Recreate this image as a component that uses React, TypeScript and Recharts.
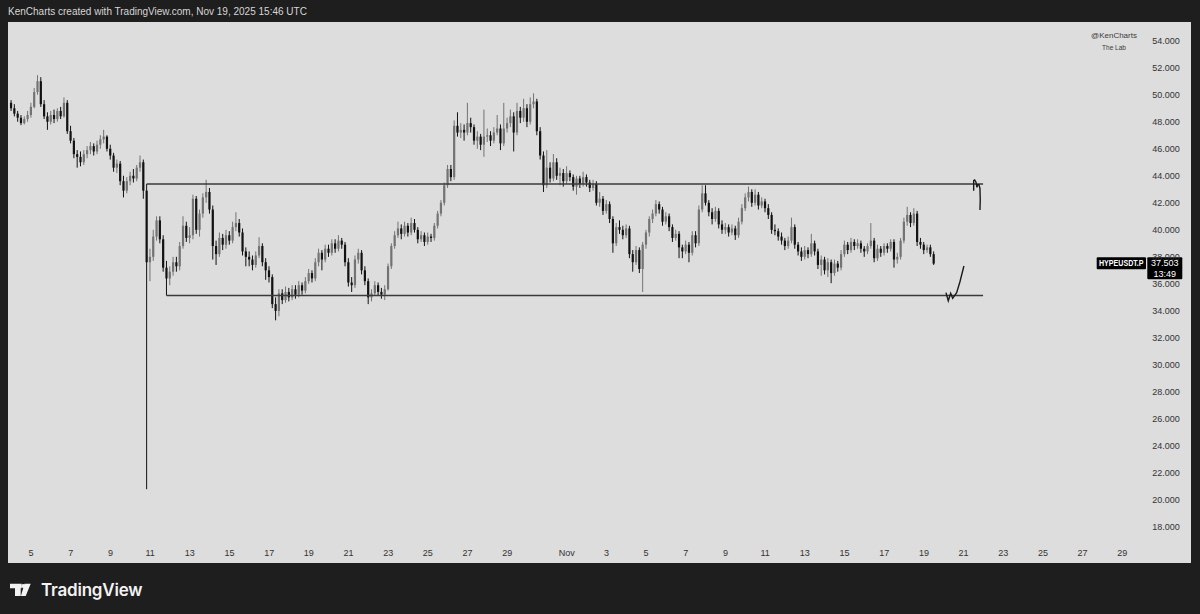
import { Bar, ComposedChart, Line, ReferenceDot, XAxis, YAxis } from 'recharts'

// 4h HYPEUSDT.P candles, Oct 4 00:00 -> Nov 19 12:00 (one line = one day)
const opens = [
  49.4, 49.0, 48.6, 48.3, 47.9, 48.2,
  48.5, 49.1, 50.2, 51.0, 49.3, 48.4,
  48.0, 48.5, 48.2, 48.8, 48.4, 49.4,
  47.3, 46.6, 45.6, 45.4, 45.0, 45.6,
  45.9, 46.2, 45.8, 46.3, 46.7, 46.9,
  46.0, 45.5, 44.6, 44.9, 43.6, 42.9,
  43.6, 44.0, 43.8, 44.6, 45.0, 42.9,
  37.6, 38.0, 39.5, 40.7, 39.3, 37.2,
  36.4, 36.9, 37.6, 37.3, 38.8, 40.3,
  39.4, 39.6, 42.3, 40.0, 41.2, 42.4,
  42.8, 41.5, 38.8, 38.2, 39.4, 38.9,
  39.6, 39.2, 40.2, 40.5, 39.8, 38.4,
  38.0, 37.8, 37.4, 38.1, 38.8, 37.6,
  37.0, 36.5, 34.5, 34.0, 35.3, 34.8,
  35.4, 35.0, 35.6, 35.2, 35.9, 35.5,
  36.2, 36.8, 36.4, 37.6, 38.3, 37.8,
  38.6, 38.3, 39.0, 38.6, 39.2, 38.9,
  37.6, 36.1, 35.9, 37.8, 38.3, 37.0,
  36.2, 35.0, 35.3, 35.9, 35.4, 35.2,
  35.6, 37.3, 38.8, 39.6, 40.1, 39.7,
  40.3, 39.8, 40.5, 40.0, 39.3, 39.6,
  39.1, 39.5, 39.4, 40.3, 41.2, 42.0,
  43.3, 44.5, 43.9, 47.7, 47.2, 47.4,
  47.2, 47.9, 47.6, 46.6, 46.9, 46.3,
  46.9, 47.0, 46.6, 47.2, 47.5, 46.4,
  47.5, 47.9, 48.4, 47.2, 48.8, 48.3,
  49.0, 48.0, 49.3, 49.5, 47.3, 45.5,
  43.3, 44.6, 43.8, 45.0, 44.0, 44.2,
  43.6, 44.2, 43.9, 43.2, 43.8, 43.4,
  43.9, 43.5, 43.1, 43.4, 42.0, 42.3,
  41.4, 41.9, 40.8, 39.0, 40.2, 40.0,
  39.6, 40.1, 38.2, 37.6, 38.5, 37.1,
  38.9, 39.8, 40.8, 41.2, 41.9, 41.5,
  40.6, 41.0, 40.2, 39.4, 39.7, 38.7,
  38.4, 38.9, 38.3, 39.6, 39.0, 41.5,
  42.7, 42.0, 41.3, 40.8, 41.4, 40.4,
  40.0, 40.2, 39.8, 40.1, 39.6, 40.6,
  41.6, 42.4, 42.8, 42.0, 42.6, 41.8,
  42.1, 41.6, 41.1, 40.0, 39.9, 39.5,
  39.2, 38.8, 39.2, 40.2, 38.9, 38.4,
  38.0, 38.5, 38.2, 39.0, 38.4, 37.4,
  37.8, 37.0, 37.6, 36.8, 37.5, 37.2,
  38.2, 38.9, 38.5, 39.1, 38.8, 39.0,
  38.6, 38.4, 38.8, 39.2, 37.9, 38.6,
  38.3, 38.8, 38.6, 39.1, 37.8, 38.0,
  39.2, 40.6, 41.1, 40.5, 41.2, 39.1,
  38.9, 38.5, 38.7, 38.2,
]
const highs = [
  49.6, 49.3, 48.8, 48.5, 48.4, 48.8,
  49.4, 50.5, 51.45, 51.3, 49.6, 48.7,
  48.8, 48.9, 49.0, 49.1, 49.8, 49.6,
  47.7, 46.8, 45.9, 45.8, 45.9, 46.2,
  46.5, 46.4, 46.6, 47.0, 47.4, 47.0,
  46.3, 45.7, 45.2, 45.1, 44.0, 43.9,
  44.3, 44.5, 44.8, 45.5, 45.2, 43.4,
  38.6, 40.0, 41.0, 41.0, 39.6, 37.7,
  37.3, 38.0, 38.0, 39.1, 41.0, 40.6,
  40.2, 42.6, 42.5, 41.5, 42.7, 43.7,
  43.1, 41.8, 39.2, 39.8, 39.7, 40.0,
  39.9, 40.6, 41.3, 40.8, 40.1, 38.7,
  38.4, 38.1, 38.4, 39.45, 39.0, 37.9,
  37.3, 36.7, 35.0, 35.6, 35.6, 35.8,
  35.7, 35.9, 35.9, 36.2, 36.1, 36.5,
  37.1, 37.0, 37.9, 38.6, 38.5, 38.9,
  38.9, 39.3, 39.3, 39.6, 39.4, 39.1,
  37.9, 36.5, 38.1, 38.6, 38.5, 37.3,
  36.4, 35.6, 36.2, 36.1, 35.7, 35.9,
  37.5, 39.0, 39.9, 40.6, 40.4, 40.6,
  40.5, 40.9, 40.8, 40.2, 39.9, 39.8,
  39.8, 39.7, 40.5, 41.4, 42.2, 43.5,
  44.8, 44.8, 48.1, 48.7, 47.9, 47.8,
  49.4, 48.3, 47.8, 47.3, 47.1, 48.9,
  47.5, 47.3, 47.6, 48.5, 47.8, 49.4,
  48.3, 48.9, 48.7, 49.4, 49.1, 49.7,
  49.3, 49.8, 50.1, 49.7, 47.6, 45.8,
  45.9, 45.0, 45.6, 45.3, 44.6, 44.5,
  44.7, 44.4, 44.1, 44.0, 44.0, 44.3,
  44.1, 43.7, 43.7, 43.6, 42.8, 42.5,
  42.2, 42.1, 41.0, 40.5, 40.7, 40.3,
  40.4, 40.3, 38.5, 38.8, 38.7, 39.1,
  40.0, 41.0, 41.5, 42.2, 42.1, 41.7,
  41.3, 41.2, 40.4, 40.0, 39.9, 38.9,
  39.2, 39.1, 39.9, 39.9, 41.8, 43.3,
  43.3, 42.2, 41.6, 41.7, 41.6, 40.7,
  40.5, 40.4, 40.4, 40.3, 40.9, 41.9,
  42.7, 43.2, 43.0, 43.0, 42.8, 42.4,
  42.3, 41.9, 41.3, 40.4, 40.1, 39.8,
  39.4, 39.5, 40.9, 40.4, 39.1, 38.7,
  38.8, 38.7, 39.7, 39.2, 38.6, 38.1,
  38.0, 37.9, 37.8, 37.8, 37.7, 38.5,
  39.2, 39.1, 39.4, 39.3, 39.3, 39.2,
  38.8, 39.0, 40.5, 39.4, 38.9, 38.8,
  39.0, 39.0, 39.3, 39.3, 38.3, 39.4,
  40.9, 41.7, 41.3, 41.6, 41.4, 39.4,
  39.1, 38.9, 38.9, 38.4,
]
const lows = [
  48.8, 48.4, 48.0, 47.75, 47.8, 48.0,
  48.3, 49.0, 50.0, 49.1, 48.2, 47.4,
  47.8, 47.9, 48.0, 48.2, 48.3, 47.1,
  46.4, 45.3, 44.6, 44.7, 44.8, 45.3,
  45.6, 45.5, 45.6, 46.0, 46.4, 45.8,
  45.2, 44.3, 44.2, 43.3, 42.4, 42.7,
  43.3, 43.5, 43.6, 44.3, 42.3, 20.8,
  36.2, 37.7, 39.2, 39.0, 36.9, 35.13,
  35.9, 36.6, 36.9, 37.0, 38.6, 39.1,
  39.0, 39.3, 39.7, 39.5, 40.9, 42.0,
  41.2, 37.8, 37.4, 38.0, 38.5, 38.6,
  38.9, 39.0, 39.9, 39.5, 38.1, 37.3,
  37.3, 37.0, 37.2, 37.9, 37.3, 36.3,
  36.1, 34.2, 33.3, 33.6, 34.5, 34.6,
  34.7, 34.8, 34.9, 35.0, 35.2, 35.3,
  36.0, 36.1, 36.2, 37.3, 37.0, 37.6,
  38.0, 38.1, 38.3, 38.4, 38.6, 37.3,
  35.8, 35.4, 35.7, 37.5, 36.7, 35.9,
  34.5, 34.7, 35.1, 35.1, 34.9, 34.8,
  35.5, 37.1, 38.6, 39.4, 39.3, 39.5,
  39.5, 39.6, 39.8, 39.0, 39.1, 38.8,
  38.9, 39.1, 39.2, 40.1, 41.0, 41.8,
  43.1, 43.6, 43.7, 46.9, 46.8, 46.6,
  47.0, 47.2, 46.3, 46.0, 45.9, 45.4,
  46.5, 46.2, 46.4, 47.0, 45.9, 46.2,
  47.2, 47.6, 45.8, 47.0, 47.9, 48.0,
  47.6, 47.8, 49.0, 47.0, 45.2, 42.8,
  43.1, 43.5, 43.6, 43.7, 43.3, 43.2,
  43.4, 43.6, 42.9, 42.6, 43.1, 43.2,
  43.2, 42.8, 42.9, 41.8, 41.7, 41.1,
  41.2, 40.5, 38.3, 38.8, 39.7, 39.3,
  39.4, 37.9, 36.9, 37.4, 36.8, 35.4,
  38.6, 39.5, 40.5, 41.0, 41.2, 40.3,
  40.4, 39.9, 39.1, 39.2, 37.9, 37.9,
  38.2, 37.6, 38.1, 38.7, 38.8, 41.3,
  41.8, 41.0, 40.4, 40.6, 40.1, 39.7,
  39.7, 39.5, 39.6, 39.25, 39.4, 40.4,
  41.4, 42.1, 41.7, 41.8, 41.5, 41.6,
  41.3, 40.8, 39.7, 39.6, 39.2, 38.9,
  38.5, 38.6, 39.0, 38.6, 38.1, 37.7,
  37.8, 37.9, 38.0, 38.1, 37.1, 36.6,
  36.7, 36.5, 36.05, 36.6, 36.9, 37.0,
  38.0, 38.2, 38.3, 38.5, 38.6, 38.3,
  38.0, 38.2, 38.6, 37.6, 37.7, 38.0,
  38.1, 38.3, 38.4, 37.2, 37.5, 37.8,
  39.0, 40.3, 40.2, 40.3, 38.8, 38.6,
  38.2, 38.3, 38.0, 37.4,
]
const closes = [
  49.0, 48.6, 48.3, 47.9, 48.2, 48.5,
  49.1, 50.2, 51.0, 49.3, 48.4, 48.0,
  48.5, 48.2, 48.8, 48.4, 49.4, 47.3,
  46.6, 45.6, 45.4, 45.0, 45.6, 45.9,
  46.2, 45.8, 46.3, 46.7, 46.9, 46.0,
  45.5, 44.6, 44.9, 43.6, 42.9, 43.6,
  44.0, 43.8, 44.6, 45.0, 42.9, 37.6,
  38.0, 39.5, 40.7, 39.3, 37.2, 36.4,
  36.9, 37.6, 37.3, 38.8, 40.3, 39.4,
  39.6, 42.3, 40.0, 41.2, 42.4, 42.8,
  41.5, 38.8, 38.2, 39.4, 38.9, 39.6,
  39.2, 40.2, 40.5, 39.8, 38.4, 38.0,
  37.8, 37.4, 38.1, 38.8, 37.6, 37.0,
  36.5, 34.5, 34.0, 35.3, 34.8, 35.4,
  35.0, 35.6, 35.2, 35.9, 35.5, 36.2,
  36.8, 36.4, 37.6, 38.3, 37.8, 38.6,
  38.3, 39.0, 38.6, 39.2, 38.9, 37.6,
  36.1, 35.9, 37.8, 38.3, 37.0, 36.2,
  35.0, 35.3, 35.9, 35.4, 35.2, 35.6,
  37.3, 38.8, 39.6, 40.1, 39.7, 40.3,
  39.8, 40.5, 40.0, 39.3, 39.6, 39.1,
  39.5, 39.4, 40.3, 41.2, 42.0, 43.3,
  44.5, 43.9, 47.7, 47.2, 47.4, 47.2,
  47.9, 47.6, 46.6, 46.9, 46.3, 46.9,
  47.0, 46.6, 47.2, 47.5, 46.4, 47.5,
  47.9, 48.4, 47.2, 48.8, 48.3, 49.0,
  48.0, 49.3, 49.5, 47.3, 45.5, 43.3,
  44.6, 43.8, 45.0, 44.0, 44.2, 43.6,
  44.2, 43.9, 43.2, 43.8, 43.4, 43.9,
  43.5, 43.1, 43.4, 42.0, 42.3, 41.4,
  41.9, 40.8, 39.0, 40.2, 40.0, 39.6,
  40.1, 38.2, 37.6, 38.5, 37.1, 38.9,
  39.8, 40.8, 41.2, 41.9, 41.5, 40.6,
  41.0, 40.2, 39.4, 39.7, 38.7, 38.4,
  38.9, 38.3, 39.6, 39.0, 41.5, 42.7,
  42.0, 41.3, 40.8, 41.4, 40.4, 40.0,
  40.2, 39.8, 40.1, 39.6, 40.6, 41.6,
  42.4, 42.8, 42.0, 42.6, 41.8, 42.1,
  41.6, 41.1, 40.0, 39.9, 39.5, 39.2,
  38.8, 39.2, 40.2, 38.9, 38.4, 38.0,
  38.5, 38.2, 39.0, 38.4, 37.4, 37.8,
  37.0, 37.6, 36.8, 37.5, 37.2, 38.2,
  38.9, 38.5, 39.1, 38.8, 39.0, 38.6,
  38.4, 38.8, 39.2, 37.9, 38.6, 38.3,
  38.8, 38.6, 39.1, 37.8, 38.0, 39.2,
  40.6, 41.1, 40.5, 41.2, 39.1, 38.9,
  38.5, 38.7, 38.2, 37.5,
]

// time-axis labels: slot index (4h steps from Oct 4 00:00) and text
const labelSlots = [6, 18, 30, 42, 54, 66, 78, 90, 102, 114, 126, 138, 150, 168, 180, 192, 204, 216, 228, 240, 252, 264, 276, 288, 300, 312, 324, 336]
const labelTexts = ['5', '7', '9', '11', '13', '15', '17', '19', '21', '23', '25', '27', '29', 'Nov', '3', '5', '7', '9', '11', '13', '15', '17', '19', '21', '23', '25', '27', '29']

const priceTicks = [18, 20, 22, 24, 26, 28, 30, 32, 34, 36, 38, 40, 42, 44, 46, 48, 50, 52, 54]

// drawings, as [slot, price]
const rangeTop = [[41, 43.39], [293.9, 43.39]]
const rangeBottom = [[47, 35.13], [293.9, 35.13]]
const scribbleTop = [[291.05, 42.9], [291.05, 43.64], [291.35, 43.69], [291.74, 43.54], [292.04, 43.15], [292.25, 43.34], [292.65, 43.34], [292.95, 43.07], [293.04, 42.21], [292.95, 41.47]]
const scribbleBottom = [[282.67, 35.35], [283.37, 34.75], [284.1, 35.3], [284.7, 34.93], [285.9, 35.35], [286.9, 36.16], [288.1, 37.32]]

const symbol = 'HYPEUSDT.P'
const lastPrice = 37.503
const countdown = '13:49'

const SLOT_COUNT = 342
const UP = '#737373'
const DOWN = '#121212'
const INK = '#333'
const FONT = "'Liberation Sans', Arial, sans-serif"

const rows = Array.from({ length: SLOT_COUNT }, (_, slot) =>
  slot < closes.length
    ? { slot, o: opens[slot], h: highs[slot], l: lows[slot], c: closes[slot] }
    : { slot },
)

const toPoints = (pts: number[][]) => pts.map(([x, y]) => ({ x, y }))

function Candle(props: any) {
  const { x, y, width, height, payload } = props
  if (!payload || payload.c == null || height == null) return null
  const { o, h, l, c } = payload
  const color = c >= o ? UP : DOWN
  const top = Math.min(y, y + height)
  const full = Math.abs(height)
  const per = full / (h - l || 1)
  const cx = x + width / 2
  const bodyTop = top + (h - Math.max(o, c)) * per
  const bodyH = Math.max(Math.abs(o - c) * per, 1)
  return (
    <g>
      <line x1={cx} x2={cx} y1={top} y2={top + full} stroke={color} strokeWidth={1} />
      <rect x={cx - 1.1} y={bodyTop} width={2.2} height={bodyH} fill={color} />
    </g>
  )
}

function TimeTick({ x, payload }: any) {
  const idx = labelSlots.indexOf(payload.value)
  if (idx < 0) return null
  return (
    <text x={x} y={531} textAnchor="middle" dominantBaseline="central" fontSize={9} fill={INK} fontFamily={FONT}>
      {labelTexts[idx]}
    </text>
  )
}

function PriceTick({ y, payload }: any) {
  return (
    <text x={1158} y={y} textAnchor="middle" dominantBaseline="central" fontSize={9} fill={INK} fontFamily={FONT}>
      {Number(payload.value).toFixed(3)}
    </text>
  )
}

function PriceTag({ cy }: any) {
  if (cy == null) return null
  return (
    <g fontFamily={FONT} fill="#fff">
      <rect x={1088.7} y={cy - 6.3} width={49.3} height={12} fill="#000" rx={1} />
      <text x={1091} y={cy - 0.3} dominantBaseline="central" fontSize={9} fontWeight={700} textLength={44.5} lengthAdjust="spacingAndGlyphs">{symbol}</text>
      <rect x={1139.3} y={cy - 6.3} width={35} height={22} fill="#000" rx={1} />
      <text x={1156.8} y={cy - 0.3} textAnchor="middle" dominantBaseline="central" fontSize={9}>{lastPrice.toFixed(3)}</text>
      <text x={1156.8} y={cy + 10.2} textAnchor="middle" dominantBaseline="central" fontSize={9}>{countdown}</text>
    </g>
  )
}

export default function App() {
  return (
    <div style={{ position: 'absolute', left: 0, top: 0, width: 1200, height: 614, background: '#1e1e1e', overflow: 'hidden' }}>
      <div style={{ position: 'absolute', left: 8, top: 6, fontFamily: FONT, fontSize: 10, color: '#d6d6d6', whiteSpace: 'nowrap' }}>
        KenCharts created with TradingView.com, Nov 19, 2025 15:46 UTC
      </div>
      <div style={{ position: 'absolute', left: 8, top: 22, width: 1183, height: 541, background: '#dddddd' }}>
        <div style={{ position: 'absolute', left: 1066, top: 10, width: 80, textAlign: 'center', fontFamily: FONT, color: '#3a3a3a', lineHeight: 1 }}>
          <div style={{ fontSize: 8 }}>@KenCharts</div>
          <div style={{ fontSize: 6.5, marginTop: 5 }}>The Lab</div>
        </div>
        <ComposedChart width={1183} height={541} data={rows} margin={{ top: 0, right: 0, bottom: 0, left: 1.55 }} barCategoryGap={0}>
          <XAxis dataKey="slot" type="category" height={23} axisLine={false} tickLine={false} ticks={labelSlots} interval={0} tick={<TimeTick />} />
          <XAxis xAxisId="n" type="number" dataKey="x" domain={[-0.5, SLOT_COUNT - 0.5]} allowDataOverflow hide />
          <YAxis orientation="right" width={50.5} domain={[17.038, 55.384]} allowDataOverflow ticks={priceTicks} interval={0} axisLine={false} tickLine={false} tick={<PriceTick />} />
          <Bar dataKey={(d: any) => (d.c == null ? null : [d.l, d.h])} shape={<Candle />} isAnimationActive={false} />
          <Line xAxisId="n" data={toPoints(rangeTop)} dataKey="y" stroke="#3a3a3a" strokeWidth={1.5} dot={false} isAnimationActive={false} />
          <Line xAxisId="n" data={toPoints(rangeBottom)} dataKey="y" stroke="#3a3a3a" strokeWidth={1.5} dot={false} isAnimationActive={false} />
          <Line xAxisId="n" data={toPoints(scribbleTop)} dataKey="y" type="linear" stroke="#1a1a1a" strokeWidth={1.4} dot={false} isAnimationActive={false} />
          <Line xAxisId="n" data={toPoints(scribbleBottom)} dataKey="y" type="linear" stroke="#1a1a1a" strokeWidth={1.4} dot={false} isAnimationActive={false} />
          <ReferenceDot x={closes.length - 1} y={lastPrice} r={0} ifOverflow="visible" shape={<PriceTag />} />
        </ComposedChart>
      </div>
      <div style={{ position: 'absolute', left: 10, top: 580, display: 'flex', alignItems: 'center', color: '#f2f2f2' }}>
        <svg width={22} height={14} viewBox="0 0 22 14">
          <path d="M0 0.7 H11.7 V5.3 H10.7 V13 H5 V5.3 H0 Z" fill="#f2f2f2" />
          <circle cx={13.3} cy={3} r={2} fill="#f2f2f2" />
          <path d="M14.5 0.7 H20.7 L15.7 13 H10.9 Z" fill="#f2f2f2" />
        </svg>
        <span style={{ marginLeft: 9, fontFamily: "Inter, 'Liberation Sans', sans-serif", fontWeight: 600, fontSize: 17, letterSpacing: -0.2 }}>TradingView</span>
      </div>
    </div>
  )
}
